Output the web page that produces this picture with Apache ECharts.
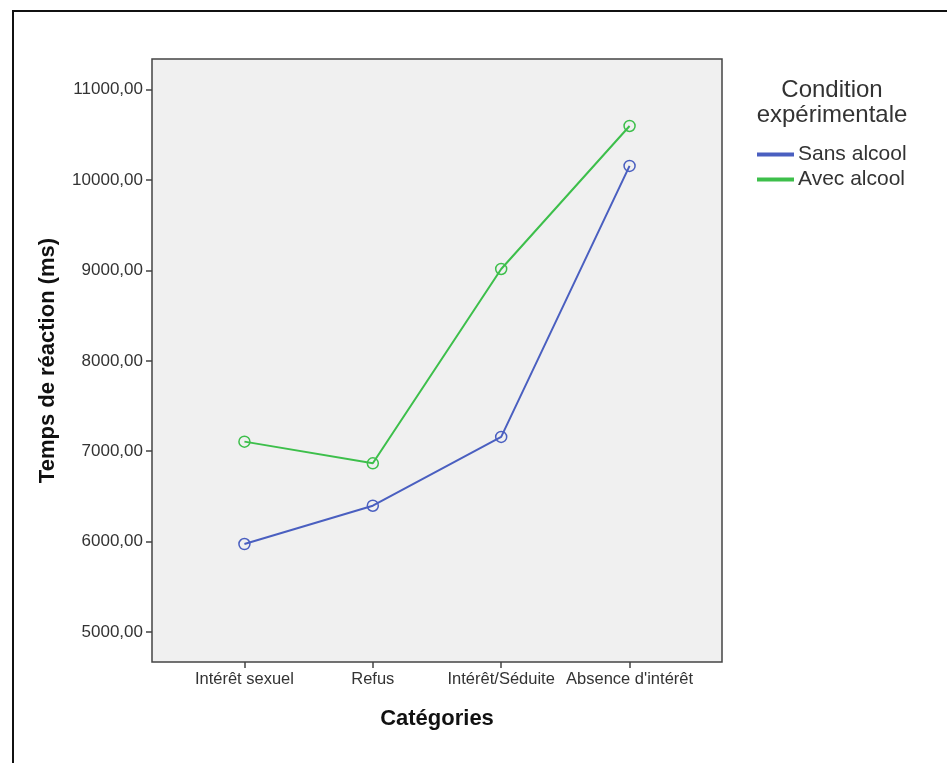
<!DOCTYPE html>
<html><head><meta charset="utf-8">
<script src="https://cdn.jsdelivr.net/npm/echarts@6/dist/echarts.min.js"></script>
<style>html,body{margin:0;padding:0;background:#fff}#c{width:947px;height:763px}</style>
</head><body><div id="c"></div>
<script>
const categories = ["Intérêt sexuel", "Refus", "Intérêt/Séduite", "Absence d'intérêt"];
const sansAlcool = [5973, 6397, 7158, 10156];
const avecAlcool = [7106, 6866, 9016, 10598];
const yTicks = [5000, 6000, 7000, 8000, 9000, 10000, 11000];
const seriesNames = ["Sans alcool", "Avec alcool"];
const colors = ["#4a5fc0", "#3dbf4b"];
const FF = "'Liberation Sans', Arial, sans-serif";

const chart = echarts.init(document.getElementById('c'), null, {renderer: 'canvas'});
function mk(vals, i) {
  return {
    name: seriesNames[i], type: 'line',
    data: vals.map((v, k) => [k, v]),
    symbol: 'circle', symbolSize: 11,
    itemStyle: {color: 'rgba(0,0,0,0)', borderColor: colors[i], borderWidth: 1.5},
    lineStyle: {color: colors[i], width: 2},
    emphasis: {disabled: true}, animation: false
  };
}
chart.setOption({
  animation: false,
  graphic: [
    {type: 'rect', shape: {x: 13, y: 11, width: 1000, height: 800}, style: {fill: 'none', stroke: '#111', lineWidth: 2}, z: -10},
    {type: 'text', x: 832, y: 78, style: {text: 'Condition\nexpérimentale', fill: '#333', fontSize: 24, fontFamily: FF, align: 'center', verticalAlign: 'top', lineHeight: 25}}
  ],
  legend: {
    orient: 'vertical', left: 757, top: 143, padding: 0, icon: 'rect', itemWidth: 35, itemHeight: 2, itemGap: 2,
    textStyle: {fontSize: 21, fontFamily: FF, color: '#333', lineHeight: 23},
    data: seriesNames.map((n, i) => ({name: n, itemStyle: {color: colors[i]}}))
  },
  grid: {left: 152, top: 59, width: 570, height: 603, show: true, backgroundColor: '#f0f0f0', borderColor: '#444', borderWidth: 1.5},
  xAxis: {
    type: 'value', min: -0.72, max: 3.72,
    name: 'Catégories', nameLocation: 'middle', nameGap: 46,
    nameTextStyle: {fontSize: 22, fontWeight: 'bold', fontFamily: FF, color: '#111'},
    axisLine: {show: false, onZero: false}, splitLine: {show: false},
    axisTick: {show: true, length: 6, lineStyle: {color: '#444', width: 1.5}, customValues: [0, 1, 2, 3]},
    axisLabel: {customValues: [0, 1, 2, 3], formatter: v => categories[Math.round(v)], fontSize: 16.5, fontFamily: FF, color: '#333', margin: 9}
  },
  yAxis: {
    type: 'value', min: 4668, max: 11339,
    name: 'Temps de réaction (ms)', nameLocation: 'middle', nameGap: 93, nameRotate: 90,
    nameTextStyle: {fontSize: 22, fontWeight: 'bold', fontFamily: FF, color: '#111'},
    axisLine: {show: false, onZero: false}, splitLine: {show: false},
    axisTick: {show: true, length: 6, lineStyle: {color: '#444', width: 1.5}, customValues: yTicks},
    axisLabel: {customValues: yTicks, formatter: v => v.toFixed(2).replace('.', ','), fontSize: 17, fontFamily: FF, color: '#333', margin: 9}
  },
  series: [mk(sansAlcool, 0), mk(avecAlcool, 1)]
});
</script></body></html>
